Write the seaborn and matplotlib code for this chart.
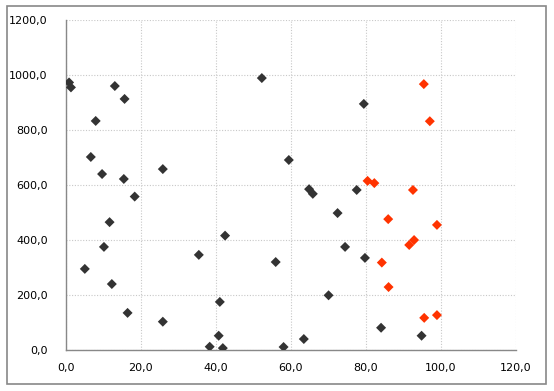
import matplotlib
matplotlib.use("Agg")
import matplotlib.pyplot as plt
from matplotlib.patches import Rectangle
from matplotlib.ticker import FuncFormatter, MultipleLocator
import seaborn as sns
import pandas as pd

# Series 1 (dark)
x_dark = [0.9, 1.4, 13.1, 15.7, 8.0, 6.7, 9.7, 15.5, 18.4, 25.9, 52.3,
          79.5, 59.5, 64.9, 65.9, 77.6,
          11.7, 10.2, 5.1, 12.3, 16.5, 25.9, 35.5, 42.5, 41.1, 40.8, 38.4, 41.9, 56.0,
          58.1, 63.5, 72.5, 74.5, 79.8, 70.1, 84.1, 94.9]
y_dark = [974, 956, 961, 914, 834, 703, 641, 623, 559, 659, 990,
          896, 692, 586, 569, 583,
          466, 376, 296, 241, 136, 104, 347, 417, 176, 53, 13, 8, 321,
          12, 41, 499, 376, 336, 200, 82, 53]
# Series 2 (red)
x_red = [95.5, 97.1, 80.5, 82.3, 92.6, 86.0, 99.0, 92.9, 91.6, 84.3, 86.1, 95.6, 99.0]
y_red = [968, 833, 616, 608, 583, 477, 456, 401, 383, 319, 230, 118, 128]

df = pd.DataFrame({
    "x": x_dark + x_red,
    "y": y_dark + y_red,
    "series": ["A"] * len(x_dark) + ["B"] * len(x_red),
})

sns.set_style("white")
plt.rcParams["font.family"] = ["DejaVu Sans"]

fig = plt.figure(figsize=(5.54, 3.91), dpi=100)
fig.patch.set_facecolor("white")
ax = fig.add_axes([65.7 / 554, (391 - 350.3) / 391, 450 / 554, 330 / 391])

sns.scatterplot(data=df, x="x", y="y", hue="series",
                palette={"A": "#333333", "B": "#FF3300"},
                marker="D", s=26, linewidth=0, legend=False, ax=ax, zorder=3)

ax.set_xlim(0, 120)
ax.set_ylim(0, 1200)
ax.xaxis.set_major_locator(MultipleLocator(20))
ax.yaxis.set_major_locator(MultipleLocator(200))
fmt = FuncFormatter(lambda v, p: f"{v:.1f}".replace(".", ","))
ax.xaxis.set_major_formatter(fmt)
ax.yaxis.set_major_formatter(fmt)
ax.set_xlabel("")
ax.set_ylabel("")
ax.tick_params(axis="both", length=0, labelsize=8, colors="#000000")
ax.tick_params(axis="y", pad=13)
ax.tick_params(axis="x", pad=9)
ax.grid(True, linestyle=(0, (1, 1.5)), color="#c8c8c8", linewidth=0.8)
ax.set_axisbelow(True)
for s in ["top", "right"]:
    ax.spines[s].set_visible(False)
for s in ["left", "bottom"]:
    ax.spines[s].set_color("#888888")
    ax.spines[s].set_linewidth(1.0)

fig.patches.append(Rectangle((7 / 554, 1 - 384 / 391), 539 / 554, 378 / 391,
                             transform=fig.transFigure, fill=False,
                             edgecolor="#888888", linewidth=1.2))

fig.savefig("out.png", dpi=100)
